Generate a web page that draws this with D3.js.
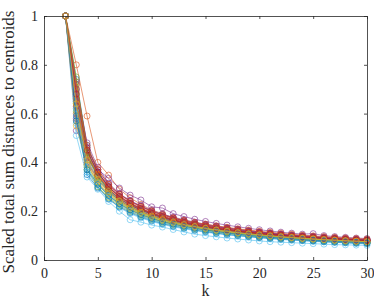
<!DOCTYPE html>
<html>
<head>
<meta charset="utf-8">
<script src="https://cdn.jsdelivr.net/npm/d3@7"></script>
<style>
  body { margin: 0; background: #fff; }
  svg { display: block; }
</style>
</head>
<body>
<div id="chart"></div>
<script>
// k values on the x axis
const ks = [2, 3, 4, 5, 6, 7, 8, 9, 10, 11, 12, 13, 14, 15, 16, 17, 18, 19, 20, 21, 22, 23, 24, 25, 26, 27, 28, 29, 30];

// scaled total sum of distances, one array per run
const runs = [
	[1, 0.72, 0.45, 0.35, 0.29, 0.25, 0.225, 0.205, 0.188, 0.172, 0.16, 0.15, 0.142, 0.134, 0.127, 0.121, 0.115, 0.11, 0.105, 0.1, 0.097, 0.093, 0.09, 0.087, 0.085, 0.082, 0.08, 0.078, 0.076],
	[1, 0.80, 0.59, 0.40, 0.348, 0.29, 0.255, 0.228, 0.205, 0.19, 0.172, 0.16, 0.15, 0.142, 0.134, 0.127, 0.121, 0.115, 0.11, 0.106, 0.102, 0.098, 0.095, 0.092, 0.089, 0.086, 0.084, 0.081, 0.079],
	[1, 0.62, 0.40, 0.32, 0.27, 0.235, 0.21, 0.19, 0.175, 0.16, 0.15, 0.14, 0.132, 0.125, 0.118, 0.112, 0.107, 0.102, 0.098, 0.094, 0.09, 0.087, 0.084, 0.082, 0.079, 0.077, 0.075, 0.073, 0.071],
	[1, 0.53, 0.46, 0.37, 0.335, 0.295, 0.266, 0.246, 0.218, 0.213, 0.19, 0.178, 0.167, 0.158, 0.15, 0.143, 0.136, 0.13, 0.124, 0.119, 0.114, 0.11, 0.106, 0.108, 0.1, 0.096, 0.093, 0.09, 0.088],
	[1, 0.68, 0.43, 0.345, 0.285, 0.245, 0.22, 0.2, 0.182, 0.168, 0.156, 0.146, 0.138, 0.13, 0.124, 0.118, 0.112, 0.107, 0.102, 0.098, 0.094, 0.091, 0.088, 0.085, 0.082, 0.08, 0.078, 0.076, 0.074],
	[1, 0.51, 0.34, 0.29, 0.24, 0.2, 0.165, 0.155, 0.143, 0.135, 0.125, 0.115, 0.106, 0.1, 0.095, 0.09, 0.086, 0.082, 0.078, 0.075, 0.073, 0.071, 0.069, 0.067, 0.065, 0.063, 0.062, 0.061, 0.06],
	[1, 0.70, 0.44, 0.355, 0.30, 0.262, 0.235, 0.213, 0.195, 0.18, 0.167, 0.157, 0.148, 0.14, 0.133, 0.127, 0.121, 0.116, 0.111, 0.107, 0.103, 0.099, 0.096, 0.093, 0.09, 0.087, 0.085, 0.083, 0.081],
	[1, 0.74, 0.47, 0.36, 0.30, 0.258, 0.23, 0.208, 0.19, 0.176, 0.163, 0.152, 0.143, 0.135, 0.128, 0.122, 0.116, 0.111, 0.106, 0.102, 0.098, 0.095, 0.092, 0.089, 0.087, 0.084, 0.082, 0.08, 0.078],
	[1, 0.60, 0.41, 0.33, 0.28, 0.243, 0.218, 0.197, 0.18, 0.166, 0.154, 0.145, 0.137, 0.13, 0.123, 0.117, 0.112, 0.107, 0.103, 0.099, 0.095, 0.092, 0.089, 0.086, 0.084, 0.081, 0.079, 0.077, 0.075],
	[1, 0.57, 0.38, 0.31, 0.26, 0.228, 0.203, 0.184, 0.169, 0.156, 0.146, 0.137, 0.129, 0.122, 0.116, 0.11, 0.105, 0.1, 0.096, 0.092, 0.089, 0.086, 0.083, 0.081, 0.078, 0.076, 0.074, 0.072, 0.07],
	[1, 0.66, 0.44, 0.36, 0.305, 0.27, 0.24, 0.22, 0.2, 0.185, 0.172, 0.16, 0.15, 0.143, 0.136, 0.13, 0.124, 0.118, 0.113, 0.109, 0.104, 0.1, 0.097, 0.094, 0.091, 0.089, 0.086, 0.084, 0.082],
	[1, 0.64, 0.39, 0.315, 0.265, 0.232, 0.207, 0.188, 0.172, 0.159, 0.148, 0.139, 0.131, 0.124, 0.118, 0.113, 0.108, 0.103, 0.099, 0.095, 0.092, 0.089, 0.086, 0.083, 0.081, 0.078, 0.076, 0.074, 0.072],
	[1, 0.56, 0.36, 0.30, 0.25, 0.215, 0.19, 0.172, 0.158, 0.146, 0.136, 0.128, 0.12, 0.114, 0.108, 0.103, 0.099, 0.095, 0.091, 0.087, 0.084, 0.081, 0.079, 0.076, 0.074, 0.072, 0.07, 0.068, 0.066],
	[1, 0.73, 0.46, 0.37, 0.31, 0.27, 0.242, 0.22, 0.2, 0.185, 0.172, 0.162, 0.153, 0.145, 0.138, 0.131, 0.125, 0.12, 0.115, 0.11, 0.106, 0.102, 0.099, 0.096, 0.093, 0.09, 0.088, 0.085, 0.083],
	[1, 0.65, 0.42, 0.34, 0.285, 0.25, 0.223, 0.203, 0.186, 0.171, 0.159, 0.149, 0.141, 0.133, 0.126, 0.12, 0.114, 0.109, 0.104, 0.1, 0.096, 0.093, 0.09, 0.087, 0.084, 0.082, 0.079, 0.077, 0.075],
	[1, 0.69, 0.45, 0.35, 0.295, 0.255, 0.228, 0.207, 0.19, 0.175, 0.163, 0.153, 0.144, 0.136, 0.129, 0.123, 0.117, 0.112, 0.107, 0.103, 0.099, 0.096, 0.093, 0.09, 0.087, 0.085, 0.082, 0.08, 0.078],
	[1, 0.71, 0.43, 0.35, 0.29, 0.25, 0.222, 0.2, 0.184, 0.17, 0.158, 0.148, 0.139, 0.131, 0.125, 0.119, 0.113, 0.108, 0.104, 0.1, 0.096, 0.093, 0.09, 0.087, 0.084, 0.082, 0.08, 0.078, 0.076],
	[1, 0.58, 0.40, 0.33, 0.28, 0.245, 0.218, 0.198, 0.182, 0.168, 0.157, 0.147, 0.139, 0.132, 0.125, 0.119, 0.114, 0.109, 0.104, 0.1, 0.097, 0.093, 0.09, 0.088, 0.085, 0.083, 0.081, 0.079, 0.077],
	[1, 0.61, 0.37, 0.30, 0.255, 0.222, 0.198, 0.18, 0.165, 0.152, 0.142, 0.133, 0.126, 0.119, 0.113, 0.108, 0.103, 0.098, 0.094, 0.091, 0.088, 0.085, 0.082, 0.08, 0.077, 0.075, 0.073, 0.071, 0.069],
	[1, 0.67, 0.41, 0.33, 0.275, 0.238, 0.212, 0.193, 0.177, 0.163, 0.152, 0.143, 0.135, 0.128, 0.121, 0.116, 0.11, 0.106, 0.101, 0.097, 0.094, 0.091, 0.088, 0.085, 0.083, 0.08, 0.078, 0.076, 0.074],
	[1, 0.63, 0.43, 0.345, 0.29, 0.252, 0.226, 0.205, 0.188, 0.174, 0.162, 0.152, 0.143, 0.135, 0.128, 0.122, 0.117, 0.112, 0.107, 0.103, 0.1, 0.096, 0.093, 0.09, 0.088, 0.086, 0.083, 0.081, 0.079],
	[1, 0.59, 0.35, 0.295, 0.25, 0.218, 0.194, 0.176, 0.161, 0.149, 0.139, 0.131, 0.123, 0.116, 0.11, 0.105, 0.1, 0.096, 0.092, 0.089, 0.086, 0.083, 0.08, 0.078, 0.075, 0.073, 0.071, 0.069, 0.068],
	[1, 0.66, 0.42, 0.35, 0.30, 0.26, 0.232, 0.21, 0.193, 0.179, 0.166, 0.155, 0.146, 0.138, 0.131, 0.125, 0.119, 0.114, 0.109, 0.105, 0.101, 0.097, 0.094, 0.091, 0.088, 0.086, 0.084, 0.082, 0.08],
	[1, 0.55, 0.39, 0.32, 0.272, 0.236, 0.21, 0.19, 0.174, 0.161, 0.15, 0.141, 0.133, 0.126, 0.12, 0.114, 0.109, 0.104, 0.1, 0.096, 0.093, 0.09, 0.087, 0.084, 0.082, 0.079, 0.077, 0.075, 0.073],
	[1, 0.70, 0.48, 0.38, 0.315, 0.272, 0.243, 0.222, 0.203, 0.188, 0.176, 0.165, 0.155, 0.146, 0.139, 0.132, 0.126, 0.12, 0.115, 0.111, 0.107, 0.103, 0.1, 0.097, 0.094, 0.091, 0.089, 0.086, 0.084],
	[1, 0.75, 0.44, 0.34, 0.28, 0.24, 0.214, 0.194, 0.178, 0.165, 0.154, 0.144, 0.136, 0.129, 0.122, 0.117, 0.111, 0.106, 0.102, 0.098, 0.095, 0.092, 0.089, 0.086, 0.083, 0.081, 0.079, 0.077, 0.075],
	[1, 0.62, 0.38, 0.31, 0.262, 0.226, 0.2, 0.18, 0.165, 0.153, 0.143, 0.134, 0.127, 0.12, 0.114, 0.109, 0.104, 0.1, 0.096, 0.092, 0.089, 0.086, 0.083, 0.081, 0.078, 0.076, 0.074, 0.072, 0.07],
	[1, 0.68, 0.45, 0.36, 0.30, 0.26, 0.232, 0.21, 0.192, 0.178, 0.165, 0.155, 0.146, 0.138, 0.131, 0.125, 0.119, 0.114, 0.11, 0.106, 0.102, 0.098, 0.095, 0.092, 0.089, 0.087, 0.084, 0.082, 0.08],
	[1, 0.57, 0.37, 0.31, 0.265, 0.23, 0.205, 0.186, 0.17, 0.157, 0.147, 0.138, 0.13, 0.123, 0.117, 0.111, 0.106, 0.101, 0.097, 0.093, 0.09, 0.087, 0.084, 0.081, 0.079, 0.077, 0.075, 0.073, 0.071],
	[1, 0.72, 0.47, 0.37, 0.31, 0.268, 0.24, 0.218, 0.2, 0.185, 0.173, 0.163, 0.154, 0.147, 0.14, 0.134, 0.128, 0.123, 0.118, 0.114, 0.11, 0.106, 0.102, 0.099, 0.096, 0.093, 0.09, 0.088, 0.086],
	[1, 0.64, 0.41, 0.33, 0.28, 0.242, 0.216, 0.196, 0.18, 0.166, 0.155, 0.145, 0.137, 0.13, 0.123, 0.118, 0.112, 0.107, 0.103, 0.099, 0.095, 0.092, 0.089, 0.086, 0.083, 0.081, 0.079, 0.077, 0.075]
];

// MATLAB default line colour order
const lineColors = ["#0072BD", "#D95319", "#EDB120", "#7E2F8E", "#77AC30", "#4DBEEE", "#A2142F"];

const xTicks = [0, 5, 10, 15, 20, 25, 30];
const yTicks = [0, 0.2, 0.4, 0.6, 0.8, 1];

const width = 374, height = 300;
const margins = {top: 16, right: 7, bottom: 40, left: 44};
const axisColor = "#262626";
const fontFamily = "Liberation Serif";

const svg = d3.select("#chart").append("svg")
	.attr("width", width)
	.attr("height", height);

const xScale = d3.scaleLinear()
	.domain([0, 30])
	.range([margins.left, width - margins.right]);

const yScale = d3.scaleLinear()
	.domain([0, 1])
	.range([height - margins.bottom, margins.top]);

// lines + open circle markers, drawn run by run
const line = d3.line()
	.x((d, i) => xScale(ks[i]))
	.y(d => yScale(d));

const runGroups = svg.append("g")
	.selectAll("g")
	.data(runs)
	.join("g")
	.attr("stroke", (d, i) => lineColors[i % lineColors.length])
	.attr("fill", "none");

runGroups.append("path")
	.attr("d", line)
	.attr("stroke-width", 0.6);

runGroups.selectAll("circle")
	.data(d => d)
	.join("circle")
	.attr("cx", (d, i) => xScale(ks[i]))
	.attr("cy", d => yScale(d))
	.attr("r", 3)
	.attr("stroke-width", 0.6);

// axes (box with inward ticks on all four sides)
function styleAxis(g) {
	g.attr("font-family", fontFamily).attr("font-size", 14);
	g.selectAll(".domain").attr("stroke", axisColor).attr("stroke-width", 0.8);
	g.selectAll(".tick line").attr("stroke", axisColor).attr("stroke-width", 0.8);
	g.selectAll(".tick text").attr("fill", axisColor);
}

svg.append("g")
	.attr("transform", `translate(0,${height - margins.bottom})`)
	.call(d3.axisBottom(xScale).tickValues(xTicks).tickSize(-3).tickSizeOuter(0).tickPadding(8).tickFormat(d3.format("d")))
	.call(styleAxis);

svg.append("g")
	.attr("transform", `translate(0,${margins.top})`)
	.call(d3.axisTop(xScale).tickValues(xTicks).tickSize(-3).tickSizeOuter(0).tickFormat(""))
	.call(styleAxis);

svg.append("g")
	.attr("transform", `translate(${margins.left},0)`)
	.call(d3.axisLeft(yScale).tickValues(yTicks).tickSize(-3).tickSizeOuter(0).tickPadding(6).tickFormat(d => d === 0 || d === 1 ? d : d.toFixed(1)))
	.call(styleAxis);

svg.append("g")
	.attr("transform", `translate(${width - margins.right},0)`)
	.call(d3.axisRight(yScale).tickValues(yTicks).tickSize(-3).tickSizeOuter(0).tickFormat(""))
	.call(styleAxis);

// axis labels
svg.append("text")
	.attr("x", (margins.left + width - margins.right) / 2)
	.attr("y", 296)
	.attr("text-anchor", "middle")
	.attr("fill", axisColor)
	.attr("font-family", fontFamily)
	.attr("font-size", 16)
	.text("k");

svg.append("text")
	.attr("transform", `translate(14,142) rotate(-90)`)
	.attr("text-anchor", "middle")
	.attr("fill", axisColor)
	.attr("font-family", fontFamily)
	.attr("font-size", 17)
	.text("Scaled total sum distances to centroids");
</script>
</body>
</html>
